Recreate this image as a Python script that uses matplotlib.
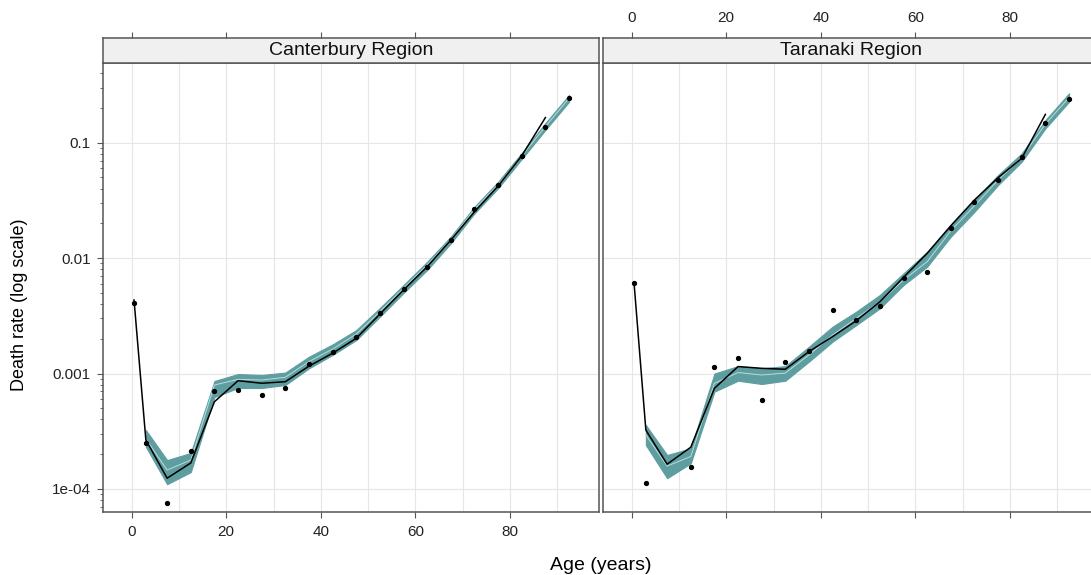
import matplotlib
matplotlib.use("Agg")
import matplotlib.pyplot as plt
import numpy as np
from matplotlib.ticker import LogLocator, NullFormatter

plt.rcParams["font.family"] = ["Liberation Sans", "DejaVu Sans"]

# Edades (punto medio del grupo)
edades = [0.5, 3, 7.5, 12.5, 17.5, 22.5, 27.5, 32.5, 37.5, 42.5, 47.5,
          52.5, 57.5, 62.5, 67.5, 72.5, 77.5, 82.5, 87.5, 92.5]
edades_linea = edades[:-1]   # linea negra hasta 87.5
edades_banda = edades[1:]    # banda desde 3 hasta 92.5

# Canterbury: tasas observadas (puntos)
cant_obs = [4.06e-3, 2.49e-4, 7.6e-5, 2.13e-4, 7.06e-4, 7.24e-4, 6.56e-4, 7.50e-4,
            1.20e-3, 1.53e-3, 2.06e-3, 3.37e-3, 5.43e-3, 8.33e-3, 0.01436, 0.0267,
            0.0430, 0.0771, 0.136, 0.243]
# Canterbury: linea negra
cant_linea = [4.34e-3, 2.66e-4, 1.24e-4, 1.68e-4, 5.70e-4, 8.67e-4, 8.24e-4, 8.50e-4,
              1.16e-3, 1.50e-3, 2.02e-3, 3.28e-3, 5.30e-3, 8.43e-3, 0.01436, 0.0252,
              0.0422, 0.0771, 0.165]
# Canterbury: banda (inferior, mediana, superior)
cant_inf = [2.32e-4, 1.10e-4, 1.40e-4, 6.26e-4, 7.50e-4, 7.50e-4, 7.96e-4, 1.11e-3,
            1.45e-3, 1.95e-3, 3.11e-3, 4.99e-3, 7.89e-3, 0.01344, 0.0244, 0.0403,
            0.0723, 0.129, 0.226]
cant_med = [2.71e-4, 1.46e-4, 1.78e-4, 7.96e-4, 8.91e-4, 8.79e-4, 9.29e-4, 1.27e-3,
            1.63e-3, 2.20e-3, 3.44e-3, 5.48e-3, 8.72e-3, 0.01456, 0.0265, 0.0433,
            0.0767, 0.138, 0.243]
cant_sup = [3.24e-4, 1.78e-4, 2.05e-4, 8.62e-4, 9.91e-4, 9.72e-4, 1.02e-3, 1.40e-3,
            1.79e-3, 2.38e-3, 3.70e-3, 5.85e-3, 9.31e-3, 0.01535, 0.0279, 0.0459,
            0.0815, 0.148, 0.259]

# Taranaki: tasas observadas (sin dato en 7.5)
tara_obs = [6.12e-3, 1.13e-4, np.nan, 1.56e-4, 1.13e-3, 1.36e-3, 5.90e-4, 1.27e-3,
            1.58e-3, 3.57e-3, 2.89e-3, 3.87e-3, 6.68e-3, 7.58e-3, 0.01835, 0.0305,
            0.0475, 0.0756, 0.147, 0.240]
tara_linea = [6.12e-3, 3.24e-4, 1.64e-4, 2.30e-4, 7.45e-4, 1.15e-3, 1.11e-3, 1.09e-3,
              1.55e-3, 2.09e-3, 2.87e-3, 4.19e-3, 6.82e-3, 0.01101, 0.0191, 0.0319,
              0.0498, 0.0733, 0.176]
tara_inf = [2.40e-4, 1.24e-4, 1.67e-4, 6.97e-4, 8.67e-4, 8.12e-4, 8.67e-4, 1.27e-3,
            1.89e-3, 2.63e-3, 3.67e-3, 5.85e-3, 8.43e-3, 0.01535, 0.0252, 0.0430,
            0.0685, 0.133, 0.226]
tara_med = [2.94e-4, 1.58e-4, 1.91e-4, 8.24e-4, 1.02e-3, 9.72e-4, 1.01e-3, 1.45e-3,
            2.16e-3, 3.01e-3, 4.19e-3, 6.47e-3, 9.31e-3, 0.01729, 0.0284, 0.0475,
            0.0747, 0.145, 0.246]
tara_sup = [3.58e-4, 1.97e-4, 2.25e-4, 1.00e-3, 1.16e-3, 1.11e-3, 1.16e-3, 1.71e-3,
            2.55e-3, 3.44e-3, 4.80e-3, 7.39e-3, 0.01137, 0.01936, 0.0319, 0.0525,
            0.0809, 0.157, 0.268]

regiones = ["Canterbury Region", "Taranaki Region"]
paneles = [
    (cant_obs, cant_linea, cant_inf, cant_med, cant_sup),
    (tara_obs, tara_linea, tara_inf, tara_med, tara_sup),
]

W, H = 1091, 575
fig = plt.figure(figsize=(W / 100, H / 100), dpi=100)
fig.patch.set_facecolor("white")

borde = "#555555"
izq = [103.3, 603.3]
ancho = 496
arriba, abajo, tira_sup = 63.3, 512.3, 37.7

for i, (obs, linea, inf, med, sup) in enumerate(paneles):
    ax = fig.add_axes([izq[i] / W, (H - abajo) / H, ancho / W, (abajo - arriba) / H])
    tira = fig.add_axes([izq[i] / W, (H - arriba) / H, ancho / W, (arriba - tira_sup) / H])

    ax.set_yscale("log")
    ax.set_xlim(-6.0, 98.9)
    ax.set_ylim(10 ** -4.202, 10 ** -0.312)

    # rejilla
    for gx in range(0, 100, 10):
        ax.axvline(gx, color="#e6e6e6", lw=0.8, zorder=0)
    for gy in [1e-4, 1e-3, 1e-2, 1e-1]:
        ax.axhline(gy, color="#e6e6e6", lw=0.8, zorder=0)

    ax.fill_between(edades_banda, inf, sup, color="#5f9ea0", lw=0.8,
                    edgecolor="#5f9ea0", zorder=2)
    ax.plot(edades_banda, med, color="#b9dcdc", lw=0.7, zorder=3)
    ax.plot(edades_linea, linea, color="black", lw=1.1, zorder=4)
    ax.plot(edades, obs, "o", color="black", ms=2.8, zorder=5)

    for s in ax.spines.values():
        s.set_color(borde)
        s.set_linewidth(1.1)

    ax.set_xticks([0, 20, 40, 60, 80])
    ax.tick_params(axis="x", direction="out", length=4, color=borde,
                   labelsize=11, labelcolor="#222222", bottom=True, top=False,
                   labelbottom=(i == 0), pad=5)
    if i == 0:
        ax.set_yticks([1e-4, 1e-3, 1e-2, 1e-1])
        ax.set_yticklabels(["1e-04", "0.001", "0.01", "0.1"])
        ax.yaxis.set_minor_locator(LogLocator(base=10, subs=np.arange(2, 10)))
        ax.yaxis.set_minor_formatter(NullFormatter())
        ax.tick_params(axis="y", which="major", direction="out", length=4, color=borde,
                       labelsize=11, labelcolor="#222222", pad=5)
        ax.tick_params(axis="y", which="minor", direction="out", length=2.5, color=borde)
    else:
        ax.tick_params(axis="y", which="both", left=False, labelleft=False)

    # tira con el nombre de la region
    tira.set_facecolor("#f0f0f0")
    tira.set_xlim(ax.get_xlim())
    tira.set_yticks([])
    tira.set_xticks([0, 20, 40, 60, 80])
    tira.tick_params(axis="x", direction="out", length=4, color=borde, labelsize=11,
                     labelcolor="#222222", bottom=False, labelbottom=False,
                     top=True, labeltop=(i == 1), pad=5)
    for s in tira.spines.values():
        s.set_color(borde)
        s.set_linewidth(1.1)
    tira.text(0.5, 0.5, regiones[i], transform=tira.transAxes, ha="center",
              va="center", fontsize=14, color="#111111")

fig.text(601 / W, 1 - 565 / H, "Age (years)", ha="center", va="center", fontsize=14)
fig.text(20 / W, 1 - 305 / H, "Death rate (log scale)", ha="center", va="center",
         rotation=90, fontsize=13)

plt.savefig("out.png", dpi=100)
